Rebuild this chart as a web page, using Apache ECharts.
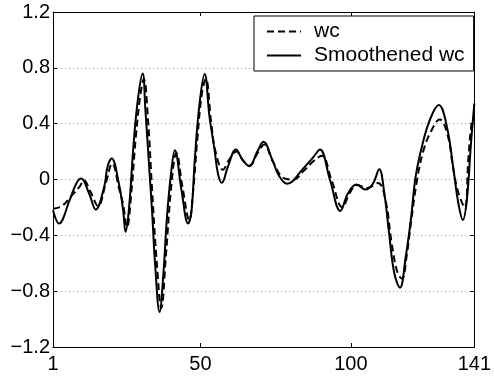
<!DOCTYPE html>
<html>
<head>
<meta charset="utf-8">
<script src="https://cdn.jsdelivr.net/npm/echarts@6/dist/echarts.min.js"></script>
<style>
html,body{margin:0;padding:0;background:#fff;}
#chart{width:494px;height:376px;}
</style>
</head>
<body>
<div id="chart"></div>
<script>
// x positions (sample index) and values
var smoothX = [1, 3, 6.5, 8.7, 10.3, 13, 15.2, 18, 19.1, 20.5, 22.9, 24.3, 25.1, 26.2, 27.8, 29.3, 30.8, 31.7, 32.8, 33.9, 35, 36.4, 37.7, 38.8, 40.2, 41.5, 43.7, 45.9, 47, 48.1, 49.7, 51.4, 53, 54.7, 55.8, 57.1, 59.1, 61.8, 64, 66.2, 68.9, 70.9, 73.9, 76, 78.8, 84.2, 87.5, 89.7, 93, 96.5, 99, 101.8, 104.8, 107.3, 109.4, 111.1, 112.7, 114.4, 116.3, 118.2, 119.9, 121.5, 123.7, 126.4, 129.2, 131.9, 134.1, 135.7, 137.2, 138.5, 139.9, 141];
var smoothY = [-0.22, -0.315, -0.15, -0.03, 0.007, -0.1, -0.215, -0.053, 0.09, 0.15, -0.03, -0.22, -0.375, -0.22, 0.26, 0.59, 0.76, 0.5, 0.14, -0.22, -0.63, -0.95, -0.67, -0.29, 0.04, 0.21, -0.077, -0.315, -0.23, 0.14, 0.545, 0.755, 0.45, 0.21, 0.043, -0.024, 0.09, 0.215, 0.14, 0.095, 0.2, 0.27, 0.14, 0.03, -0.03, 0.08, 0.16, 0.215, 0.0, -0.225, -0.1, -0.036, -0.072, -0.03, 0.074, -0.1, -0.39, -0.67, -0.775, -0.555, -0.29, 0.02, 0.246, 0.437, 0.533, 0.377, 0.067, -0.17, -0.29, -0.15, 0.26, 0.545];

var wcX = [1, 4, 7, 9.9, 11.2, 13.5, 16, 18.5, 20.7, 22.9, 24.3, 25.6, 27, 28.5, 30, 31.2, 32.5, 34, 35.5, 37, 38.5, 40.5, 42, 44, 46.3, 47.5, 49, 50.5, 51.8, 53.5, 55, 57.5, 59.5, 62, 64, 66.3, 69, 71.2, 74, 77.7, 80.9, 84.2, 87.5, 90.3, 93.5, 97.2, 99.5, 102, 105.5, 109, 111.5, 113.5, 115.5, 117, 118.5, 120, 122, 124, 126.5, 129.5, 132, 134, 135.5, 137.8, 139, 140.1, 141];
var wcY = [-0.21, -0.19, -0.12, -0.05, -0.005, -0.09, -0.19, -0.03, 0.115, -0.06, -0.18, -0.34, -0.1, 0.3, 0.6, 0.72, 0.45, -0.1, -0.6, -0.92, -0.55, 0.0, 0.19, -0.05, -0.29, -0.1, 0.3, 0.62, 0.72, 0.42, 0.2, 0.07, 0.14, 0.2, 0.14, 0.1, 0.19, 0.25, 0.13, 0.01, 0.0, 0.06, 0.13, 0.17, 0.0, -0.2, -0.1, -0.04, -0.06, -0.025, -0.15, -0.45, -0.67, -0.71, -0.55, -0.3, 0.0, 0.2, 0.34, 0.43, 0.33, 0.08, -0.08, -0.2, 0.14, 0.4, 0.45];

var xTicks = [1, 50, 100, 141];
var seriesNames = ['wc', 'Smoothened wc'];

function pairs(xs, ys) { return xs.map(function (x, i) { return [x, ys[i]]; }); }

var FONT = '"Liberation Sans", Arial, Helvetica, sans-serif';
var chart = echarts.init(document.getElementById('chart'), null, {renderer: 'canvas'});
var tickStyle = {show: true, inside: true, length: 4, lineStyle: {color: '#000', width: 1}};
var lineAx = {show: true, onZero: false, lineStyle: {color: '#000', width: 1}};

chart.setOption({
  animation: false,
  backgroundColor: '#fff',
  grid: {left: 53, top: 12, width: 426, height: 335, containLabel: false},
  legend: {
    orient: 'vertical', left: 254, top: 16,
    padding: [5, 9, 5, 12],
    itemWidth: 34, itemHeight: 20, itemGap: 3,
    borderColor: '#000', borderWidth: 1, backgroundColor: '#fff', borderRadius: 0,
    itemStyle: {color: 'rgba(0,0,0,0)', borderWidth: 0, opacity: 0},
    textStyle: {fontSize: 21, fontFamily: FONT, color: '#000', padding: [2, 0, 0, 8]},
    data: seriesNames
  },
  xAxis: [{
    type: 'value', min: 1, max: 141, position: 'bottom',
    axisLine: lineAx,
    axisTick: Object.assign({customValues: xTicks}, tickStyle),
    axisLabel: {customValues: xTicks, fontSize: 20, fontFamily: FONT, color: '#000', margin: 7},
    splitLine: {show: false}
  }, {
    type: 'value', min: 1, max: 141, position: 'top',
    axisLine: lineAx,
    axisTick: Object.assign({customValues: xTicks}, tickStyle),
    axisLabel: {show: false},
    splitLine: {show: false}
  }],
  yAxis: [{
    type: 'value', min: -1.2, max: 1.2, interval: 0.4, position: 'left',
    axisLine: lineAx, axisTick: tickStyle,
    axisLabel: {
      fontSize: 20, fontFamily: FONT, color: '#000', margin: 3,
      formatter: function (v) {
        var r = Math.round(v * 10) / 10;
        if (r === 0) return '0';
        var s = Math.abs(r).toFixed(1);
        return (r < 0 ? '\u2212' : '') + s;
      }
    },
    splitLine: {show: true, lineStyle: {color: '#9a9a9a', width: 1, type: [1, 3]}}
  }, {
    type: 'value', min: -1.2, max: 1.2, interval: 0.4, position: 'right',
    axisLine: lineAx, axisTick: tickStyle,
    axisLabel: {show: false}, splitLine: {show: false}
  }],
  series: [{
    name: seriesNames[0], type: 'line', smooth: 0.4, symbol: 'none',
    xAxisIndex: 0, yAxisIndex: 0,
    lineStyle: {color: '#000', width: 2, type: [7, 4]},
    itemStyle: {color: '#000'},
    data: pairs(wcX, wcY)
  }, {
    name: seriesNames[1], type: 'line', smooth: 0.4, symbol: 'none',
    xAxisIndex: 0, yAxisIndex: 0,
    lineStyle: {color: '#000', width: 2, type: 'solid'},
    itemStyle: {color: '#000'},
    data: pairs(smoothX, smoothY)
  }]
});
</script>
</body>
</html>
